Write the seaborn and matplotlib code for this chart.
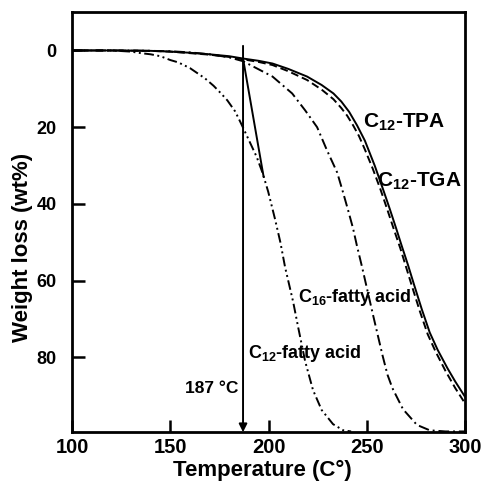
import numpy as np
import pandas as pd
import matplotlib
matplotlib.use("Agg")
import matplotlib.pyplot as plt
import seaborn as sns

# values (temperature in C, weight loss in wt%)
tpa_T = [100, 120, 140, 150, 160, 170, 180, 187, 195, 202, 210, 219.6, 227, 233, 237, 241, 245,
         249, 254, 258, 261.6, 265, 267.8, 271, 274, 278, 282, 286, 291, 295, 300]
tpa_W = [0, 0, 0.1, 0.3, 0.6, 1.0, 1.5, 2.1, 2.7, 3.4, 4.8, 6.8, 9.0, 11.2, 13.3, 16.0, 19.5,
         23.5, 30.0, 35.8, 41.2, 46.5, 51, 56, 61, 67.5, 73.5, 78, 82.8, 86.3, 90.3]

tga_T = [100, 120, 140, 150, 160, 170, 180, 187, 195, 202, 210, 219.6, 227, 233, 237, 240, 243, 246,
         249, 253, 257, 260.5, 264, 267, 270, 273, 277, 281, 285, 290, 295, 300]
tga_W = [0, 0, 0.1, 0.3, 0.7, 1.1, 1.7, 2.3, 3.0, 3.8, 5.4, 7.7, 10.2, 12.7, 15, 17, 19.5, 22.3,
         25.8, 30.8, 36.3, 41.6, 47, 51.5, 56.5, 61.5, 68, 74, 78.5, 83.5, 88, 92]

c16_T = [100, 130, 150, 160, 170, 180, 187, 193, 202, 212, 218.6, 224.7, 229.7, 234.9, 237.9, 240.5,
         243, 245, 247.6, 250.5, 253, 255.7, 258, 260.5, 263, 268.4, 275.5, 282, 290, 300]
c16_W = [0, 0, 0.2, 0.5, 1.0, 1.8, 2.8, 4.4, 6.8, 11.2, 15.6, 20, 26, 31.8, 37, 41.7,
         46.4, 51, 56.5, 63, 68.6, 74.5, 79.5, 84.5, 88, 93.5, 97.6, 99, 99.3, 99.3]

c12_T = [100, 120, 130, 135, 140, 145, 150, 154, 160, 164, 167.7, 172, 176, 179, 183, 185.5, 188,
         191, 194, 197, 199.8, 203.3, 206, 208.4, 212.5, 215, 218.6, 222.6, 227, 232.8, 238, 242]
c12_W = [0, 0, 0.3, 0.7, 1.0, 1.5, 2.5, 3.1, 4.6, 6.0, 7.3, 9.2, 11.3, 13, 15.9, 18.5, 21.2,
         24.5, 27.8, 32, 36.8, 44, 50, 56.5, 65.5, 72, 81, 88.5, 93.7, 97.4, 99, 99.3]

tangent_T = [187, 197.5]
tangent_W = [2.1, 33]

onset_T = 187

sns.set_theme(style="ticks")
plt.rcParams['font.family'] = ['Liberation Sans', 'DejaVu Sans']
plt.rcParams['font.weight'] = 'bold'
plt.rcParams['text.color'] = 'black'
plt.rcParams['axes.labelcolor'] = 'black'
plt.rcParams['axes.edgecolor'] = 'black'
plt.rcParams['xtick.color'] = 'black'
plt.rcParams['ytick.color'] = 'black'
plt.rcParams['mathtext.fontset'] = 'custom'
plt.rcParams['mathtext.rm'] = 'Liberation Sans:bold'
plt.rcParams['mathtext.bf'] = 'Liberation Sans:bold'
plt.rcParams['mathtext.it'] = 'Liberation Sans:bold'

fig, ax = plt.subplots(figsize=(4.87, 4.84), dpi=100)
fig.subplots_adjust(left=0.148, right=0.955, bottom=0.107, top=0.975)

lw = 1.4
line_kw = dict(ax=ax, color='black', lw=lw, sort=False, solid_joinstyle='round', dash_joinstyle='round')
sns.lineplot(x=tpa_T, y=tpa_W, **line_kw)
sns.lineplot(x=tga_T, y=tga_W, linestyle=(0, (4, 2)), **line_kw)
sns.lineplot(x=c16_T, y=c16_W, linestyle=(0, (5.5, 2, 1, 2)), **line_kw)
sns.lineplot(x=c12_T, y=c12_W, linestyle=(0, (5, 1.8, 1, 1.8, 1, 1.8)), **line_kw)
sns.lineplot(x=tangent_T, y=tangent_W, **line_kw)

ax.annotate('', xy=(onset_T, 99.5), xytext=(onset_T, -1.2),
            arrowprops=dict(arrowstyle='-|>', color='black', lw=1.4, mutation_scale=12,
                            shrinkA=0, shrinkB=0))

ax.set_xlim(100, 300)
ax.set_ylim(99.5, -10)
ax.set_xticks([100, 150, 200, 250, 300])
ax.set_yticks([0, 20, 40, 60, 80])
ax.tick_params(direction='in', length=9, width=1.8)
ax.tick_params(axis='x', pad=4, labelsize=14.5)
ax.tick_params(axis='y', pad=11, labelsize=13)
for lab in ax.get_xticklabels() + ax.get_yticklabels():
    lab.set_fontweight('bold')
for s in ax.spines.values():
    s.set_linewidth(2)
    s.set_visible(True)

ax.set_xlabel('Temperature (C°)', fontsize=16, fontweight='bold')
ax.set_ylabel('Weight loss (wt%)', fontsize=16, fontweight='bold')
ax.xaxis.set_label_coords(0.483, -0.065)
ax.yaxis.set_label_coords(-0.1, 0.44)

ax.text(184.5, 88, '187 °C', fontsize=12.5, fontweight='bold', ha='right', va='center')
ax.text(248, 18.8, 'C$_{12}$-TPA', fontsize=15, fontweight='bold', ha='left', va='center')
ax.text(255, 34, 'C$_{12}$-TGA', fontsize=15, fontweight='bold', ha='left', va='center')
ax.text(215, 64.5, 'C$_{16}$-fatty acid', fontsize=13, fontweight='bold', ha='left', va='center')
ax.text(189.5, 79, 'C$_{12}$-fatty acid', fontsize=13, fontweight='bold', ha='left', va='center')

fig.savefig('out.png', dpi=100)
